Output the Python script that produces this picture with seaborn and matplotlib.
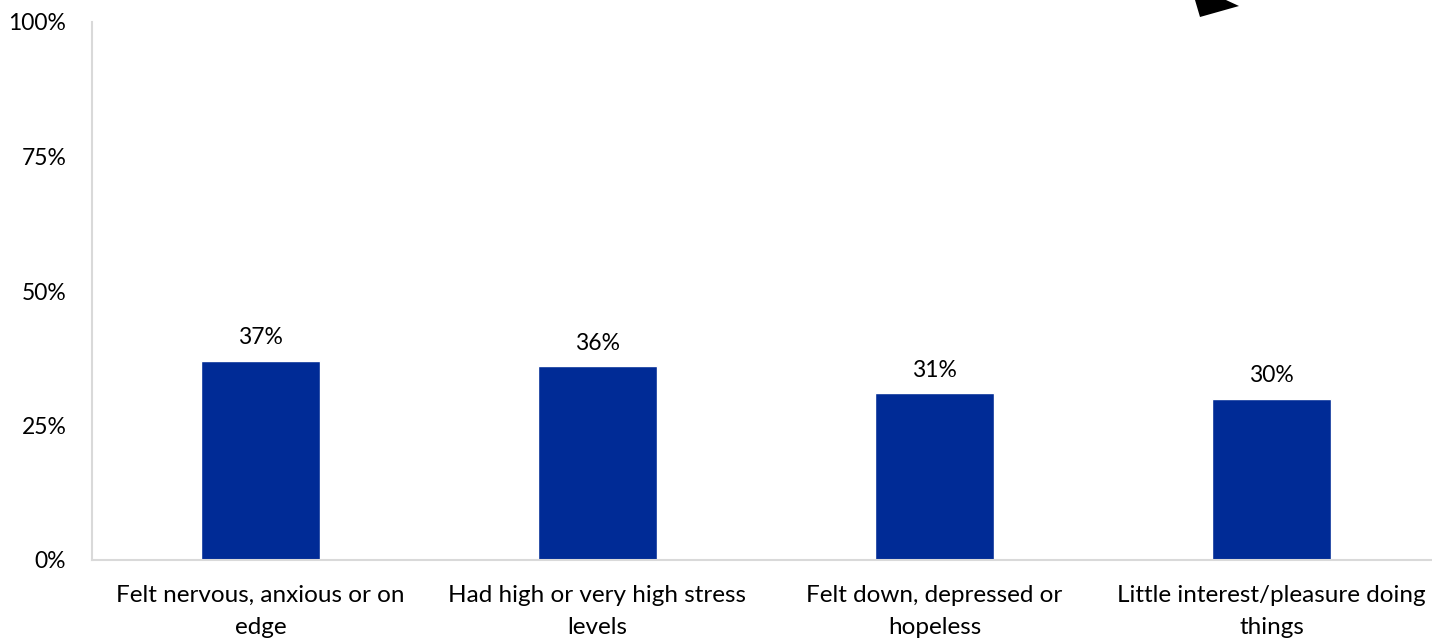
import matplotlib
matplotlib.use("Agg")
import matplotlib.pyplot as plt
from matplotlib.patches import Polygon
import seaborn as sns
import pandas as pd

categories = [
    "Felt nervous, anxious or on\nedge",
    "Had high or very high stress\nlevels",
    "Felt down, depressed or\nhopeless",
    "Little interest/pleasure doing\nthings",
]
values = [37, 36, 31, 30]
y_ticks = [0, 25, 50, 75, 100]
y_tick_labels = ["0%", "25%", "50%", "75%", "100%"]

BAR = "#002B96"
AXIS = "#D9D9D9"

sns.set_theme(style="white")
plt.rcParams["font.family"] = ["Lato", "DejaVu Sans"]

df = pd.DataFrame({"cat": categories, "val": values})

fig = plt.figure(figsize=(14.32, 6.4), dpi=100)
ax = fig.add_axes([92 / 1432, 80 / 640, (1440 - 92) / 1432, (560 - 22) / 640])

sns.barplot(data=df, x="cat", y="val", color=BAR, width=0.356, saturation=1, ax=ax)

ax.set_xlim(-0.5, 3.5)
ax.set_ylim(0, 100)
ax.set_yticks(y_ticks)
ax.set_yticklabels(y_tick_labels)
ax.set_xlabel("")
ax.set_ylabel("")

for s in ["top", "right"]:
    ax.spines[s].set_visible(False)
for s in ["left", "bottom"]:
    ax.spines[s].set_color(AXIS)
    ax.spines[s].set_linewidth(1.5)

ax.tick_params(axis="y", direction="inout", length=12, width=1.5, color=AXIS,
               pad=12.5, labelsize=16.5, labelcolor="black")
ax.tick_params(axis="x", length=0, pad=18, labelsize=17.5, labelcolor="black")
for lbl in ax.get_xticklabels():
    lbl.set_linespacing(1.65)

for c in ax.containers:
    ax.bar_label(c, labels=[f"{v}%" for v in values], padding=9,
                 fontsize=16.5, color="black")

# decorative black shape cut off at top edge
tri = Polygon([(1195 / 1432, 1.0), (1226 / 1432, 1.0), (1239 / 1432, 1 - 6 / 640),
               (1200 / 1432, 1 - 17 / 640)], closed=True, transform=fig.transFigure,
              facecolor="black", edgecolor="none")
fig.patches.append(tri)

fig.savefig("out.png", dpi=100)
